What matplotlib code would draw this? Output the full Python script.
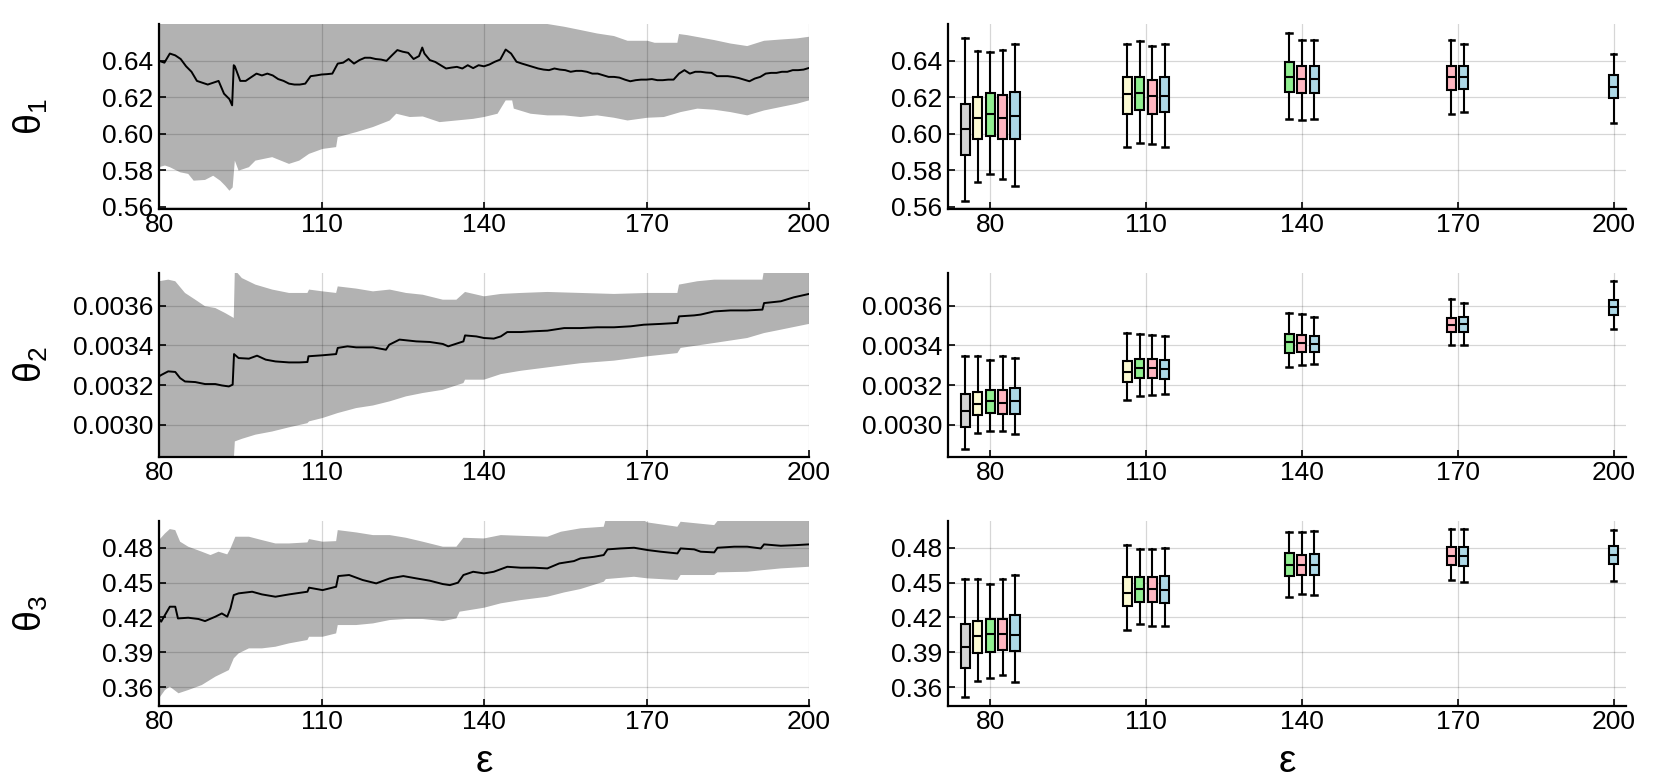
import numpy as np
import matplotlib
matplotlib.use('Agg')
import matplotlib.pyplot as plt
from matplotlib import font_manager

# ---------------- data ----------------
eps_ticks = [80, 110, 140, 170, 200]
param_labels = ['θ_1', 'θ_2', 'θ_3']

# theta1 running estimate (left panel)
t1_mean_x = [80, 81, 82, 83, 84, 85, 86, 87, 88, 89, 90, 91, 92, 93, 93.5, 93.8, 94, 95, 96, 97, 98, 99, 100,
             101, 102, 103, 104, 105, 106, 107, 108, 109, 110, 111, 112, 113, 114, 115, 116, 117, 118, 119, 120,
             121, 122, 123, 124, 125, 126, 127, 128, 128.6, 129, 130, 131, 132, 133, 134, 135, 136, 137, 138, 139, 140,
             141, 142, 143, 144, 145, 146, 147, 148, 149, 150, 151, 152, 153, 154, 155, 156, 157, 158, 159, 160,
             161, 162, 163, 164, 165, 166, 167, 168, 169, 170, 171, 172, 173, 174, 175, 176, 177, 178, 179, 180,
             181, 182, 183, 184, 185, 186, 187, 188, 189, 190, 191, 192, 193, 194, 195, 196, 197, 198, 199, 200]
t1_mean_y = [0.640, 0.639, 0.644, 0.643, 0.641, 0.637, 0.634, 0.629, 0.628, 0.627, 0.628, 0.629, 0.622, 0.619, 0.6156, 0.6376, 0.637, 0.629, 0.629, 0.631, 0.633, 0.632, 0.633,
             0.632, 0.630, 0.629, 0.6275, 0.627, 0.627, 0.6275, 0.6316, 0.632, 0.6325, 0.6327, 0.633, 0.6385, 0.639, 0.641, 0.6385, 0.6404, 0.6417, 0.6417, 0.641,
             0.6407, 0.640, 0.643, 0.6459, 0.645, 0.6444, 0.641, 0.6426, 0.6473, 0.644, 0.6404, 0.6394, 0.6376, 0.6358, 0.6363, 0.6367, 0.6358, 0.6376, 0.636, 0.6376, 0.637,
             0.638, 0.6395, 0.6407, 0.6462, 0.644, 0.6395, 0.6385, 0.6376, 0.6367, 0.6358, 0.6352, 0.6349, 0.6358, 0.6352, 0.6349, 0.634, 0.6345, 0.6345, 0.634, 0.633,
             0.633, 0.6321, 0.6312, 0.6312, 0.6308, 0.6297, 0.6288, 0.6294, 0.6297, 0.6297, 0.630, 0.6294, 0.6294, 0.6297, 0.6297, 0.633, 0.6349, 0.633, 0.634, 0.634,
             0.6336, 0.6334, 0.6316, 0.6316, 0.6316, 0.6312, 0.6306, 0.6297, 0.6288, 0.6303, 0.6312, 0.633, 0.6334, 0.6334, 0.634, 0.634, 0.6349, 0.6349, 0.6352, 0.6361]
t1_up_x = [80, 150, 151.7, 154.8, 157.8, 160.9, 164, 166.5, 170.2, 171.5, 173.2, 175.7, 176, 177.5, 182.5, 185.5, 188.6, 191.7, 194.8, 197.8, 200]
t1_up_y = [0.662, 0.662, 0.6602, 0.6587, 0.6569, 0.6550, 0.6536, 0.6510, 0.6510, 0.6499, 0.6499, 0.6499, 0.6547, 0.6541, 0.6514, 0.6495, 0.6481, 0.6510, 0.6517, 0.6523, 0.6532]
t1_lo_x = [80, 81.1, 82, 83.9, 85.4, 86.4, 88.5, 90, 91.3, 92.2, 93, 93.6, 94, 94.7, 96.6, 97.8, 100.9, 104, 105.9, 107.7, 110.2,
           112.7, 113, 116.4, 119.5, 122.6, 123.8, 126.3, 128.7, 131.8, 134.9, 138, 140, 142.5, 144, 145.2, 145.5, 148.6,
           151.7, 154.8, 157.8, 160.9, 164, 166.5, 170.2, 173.2, 176.3, 179.4, 182.5, 185.5, 188.6, 191.7, 194.8, 197.8, 200]
t1_lo_y = [0.5817, 0.5826, 0.5817, 0.5789, 0.578, 0.5743, 0.5747, 0.577, 0.5743, 0.5716, 0.5688, 0.5706, 0.5853, 0.5798, 0.5817, 0.5853, 0.5872, 0.5835, 0.5853, 0.589, 0.5917,
           0.5927, 0.5982, 0.6009, 0.6037, 0.6073, 0.611, 0.6092, 0.6095, 0.6064, 0.6073, 0.6082, 0.6092, 0.611, 0.6183, 0.6183, 0.6138, 0.611,
           0.6101, 0.6101, 0.6092, 0.6101, 0.6088, 0.6073, 0.6088, 0.6092, 0.6119, 0.6138, 0.6132, 0.6119, 0.6101, 0.6128, 0.6147, 0.6165, 0.6183]

# theta2 running estimate
t2_mean_x = [80, 80.5, 81.7, 83, 83.9, 84.8, 86.7, 88.5, 90.4, 91.6, 92.9, 93.6, 93.85, 94.7, 96.6, 98.1, 99.7, 101.5, 104, 105.9,
             107.4, 107.6, 110.2, 112.7, 113, 114.8, 116.4, 119.5, 121.9, 122.5, 124.4, 127.5, 130, 132.4, 133.4, 136.2, 136.5,
             138.6, 140, 141.8, 143.1, 144.3, 146.8, 149.2, 151.7, 154.8, 157.8, 160.9, 164, 167.1, 169.5, 172.6, 175.7, 176,
             178.8, 180, 182.5, 185.5, 188.6, 191.4, 191.7, 194.8, 197.2, 200]
t2_mean_y = [0.003244, 0.003252, 0.003269, 0.003266, 0.003235, 0.003218, 0.003215, 0.003205, 0.003205, 0.003198, 0.003193, 0.003202, 0.003356, 0.003336, 0.003333, 0.003348, 0.003328, 0.003319, 0.003314, 0.003314,
             0.003316, 0.003345, 0.00335, 0.003356, 0.003387, 0.003395, 0.00339, 0.00339, 0.003378, 0.003403, 0.003429, 0.00342, 0.003417, 0.003407, 0.003395, 0.00342, 0.00345,
             0.003445, 0.003437, 0.003434, 0.003445, 0.003467, 0.003467, 0.003471, 0.003474, 0.003487, 0.003487, 0.003491, 0.003491, 0.003496, 0.003504, 0.003508, 0.003513, 0.003546,
             0.003551, 0.003555, 0.003571, 0.003576, 0.003576, 0.00358, 0.003613, 0.003622, 0.003642, 0.003659]
t2_up_x = [80, 81.7, 83, 84.8, 86.7, 88.5, 90.4, 92.2, 93.8, 94, 95.3, 97.8, 100.9, 104, 107.4, 107.7, 110.2, 112.7, 113, 116.4,
           119.5, 122.6, 125.6, 128.7, 132.4, 134.9, 136.5, 140, 143.1, 146.8, 151.7, 157.8, 164, 170.2, 175.7, 176, 179.4,
           182.5, 188.6, 191.4, 191.7, 200]
t2_up_y = [0.003723, 0.003731, 0.003723, 0.003664, 0.00363, 0.003597, 0.003588, 0.003563, 0.003538, 0.00378, 0.003739, 0.003706, 0.003681, 0.003664, 0.003664, 0.003681, 0.003672, 0.003664, 0.003697, 0.003686,
           0.003672, 0.003681, 0.003664, 0.003655, 0.00363, 0.00363, 0.003669, 0.003647, 0.003659, 0.003664, 0.003669, 0.003664, 0.003659, 0.003664, 0.003664, 0.003706, 0.003723,
           0.003731, 0.003731, 0.003731, 0.00378, 0.00378]
t2_lo_x = [80, 93.8, 94, 95.3, 97.8, 100.9, 104, 107.4, 107.7, 110.2, 113, 116.4, 119.5, 122.6, 125.6, 128.7, 132.4, 136.2, 136.5,
           140, 143.1, 146.8, 151.7, 157.8, 164, 170.2, 175.7, 176.3, 182.5, 188.6, 191.7, 194.8, 200]
t2_lo_y = [0.00282, 0.00282, 0.002916, 0.002929, 0.00295, 0.002966, 0.002987, 0.003008, 0.003017, 0.003034, 0.003059, 0.003084, 0.003097, 0.003118, 0.003143, 0.00316, 0.003176, 0.00321, 0.003227,
           0.003227, 0.003255, 0.003272, 0.003289, 0.00331, 0.003323, 0.003345, 0.003361, 0.003387, 0.003412, 0.003437, 0.003462, 0.003479, 0.003508]

# theta3 running estimate
t3_mean_x = [80, 80.4, 81.1, 82, 83, 83.5, 85.4, 87.3, 88.5, 90.4, 91.6, 92.6, 93.2, 93.8, 94.7, 97.2, 99, 101.5, 104, 106.5,
             107.4, 107.7, 110.2, 112.7, 113.1, 115.1, 117.6, 120.1, 122.6, 125.1, 127.5, 130, 132.4, 133.7, 135.2, 136.2, 138,
             140, 141.8, 144.3, 146.8, 149.2, 151.7, 153.9, 156.6, 157.8, 160.3, 162.1, 162.8, 165.2, 167.7, 170.2, 172.6, 175.7,
             176.3, 178.8, 180, 182.5, 183.1, 186.2, 188.6, 191.1, 191.7, 194.8, 197.8, 200]
t3_mean_y = [0.4191, 0.4163, 0.422, 0.4292, 0.4292, 0.4191, 0.4197, 0.4186, 0.4168, 0.4206, 0.4234, 0.4206, 0.4278, 0.4392, 0.4407, 0.4421, 0.4398, 0.4378, 0.4398, 0.4415,
             0.4421, 0.4456, 0.4435, 0.4464, 0.4556, 0.4565, 0.4522, 0.4493, 0.4536, 0.4556, 0.4536, 0.4516, 0.4487, 0.4478, 0.4499, 0.4565, 0.4593,
             0.4579, 0.4593, 0.4636, 0.4628, 0.4628, 0.4622, 0.4665, 0.4685, 0.4708, 0.4722, 0.4737, 0.4786, 0.4794, 0.48, 0.478, 0.4766, 0.4751,
             0.4794, 0.4786, 0.4766, 0.476, 0.48, 0.4809, 0.4809, 0.4794, 0.4829, 0.4817, 0.4823, 0.4829]
t3_up_x = [80, 81.1, 82, 83, 83.9, 85.4, 87.9, 89.5, 91, 92.6, 93.2, 94.1, 96.6, 99, 101.5, 104, 107.4, 107.7, 110.2, 112.7, 113,
           116.4, 119.5, 122.6, 125.6, 128.7, 132.4, 134.9, 136.2, 140, 143.1, 146.8, 151.7, 154.2, 157.8, 162.1, 162.5,
           168.9, 170.2, 175.7, 176.3, 182.5, 183.1, 191.7, 200]
t3_up_y = [0.4866, 0.4923, 0.4961, 0.4952, 0.4852, 0.4809, 0.4766, 0.4737, 0.4766, 0.4743, 0.4794, 0.4895, 0.4895, 0.4866, 0.4837, 0.4837, 0.4846, 0.4875, 0.4852, 0.4857, 0.4952,
           0.4932, 0.4909, 0.4909, 0.4886, 0.4852, 0.4809, 0.4809, 0.4886, 0.488, 0.4909, 0.4903, 0.4895, 0.4938, 0.4967, 0.4981, 0.505,
           0.505, 0.5018, 0.4981, 0.5024, 0.4995, 0.503, 0.505, 0.505]
t3_lo_x = [80, 81.1, 82, 83.6, 85.4, 87.9, 90.4, 92.9, 93.8, 94.7, 96.6, 99, 101.5, 104, 107.4, 107.7, 110.2, 112.7, 113, 116.4,
           119.5, 122.6, 125.6, 128.7, 132.4, 134.9, 135.5, 140, 143.1, 146.8, 151.7, 154.8, 157.8, 162.1, 162.5, 167.7,
           170.2, 175.7, 176.3, 182.5, 183.1, 188.6, 191.7, 194.8, 200]
t3_lo_y = [0.3502, 0.3574, 0.3603, 0.3546, 0.3574, 0.3617, 0.3689, 0.3746, 0.3847, 0.389, 0.3933, 0.3933, 0.3947, 0.3976, 0.4005, 0.4033, 0.4033, 0.4062, 0.4134, 0.4134,
           0.4148, 0.4177, 0.4186, 0.4186, 0.4168, 0.4191, 0.4249, 0.4283, 0.4321, 0.4349, 0.4378, 0.4415, 0.4444, 0.4507, 0.453, 0.455,
           0.4536, 0.4522, 0.4565, 0.4565, 0.4588, 0.4593, 0.4608, 0.4622, 0.4636]

# box statistics [whisker low, Q1, median, Q3, whisker high], one per ε group starting at 80
t1_gray = [[0.5631, 0.5883, 0.6026, 0.6164, 0.6526]]
t1_yellow = [[0.5733, 0.5973, 0.6086, 0.6203, 0.6455], [0.5929, 0.6110, 0.6216, 0.6311, 0.6493]]
t1_green = [[0.5779, 0.5989, 0.6111, 0.6223, 0.6446], [0.5951, 0.6132, 0.6225, 0.6314, 0.6511], [0.6082, 0.6230, 0.6312, 0.6391, 0.6553]]
t1_pink = [[0.5752, 0.5969, 0.6088, 0.6214, 0.6458], [0.5945, 0.6111, 0.6206, 0.6294, 0.6479], [0.6077, 0.6221, 0.6301, 0.6373, 0.6513],
           [0.6108, 0.6241, 0.6309, 0.6371, 0.6517]]
t1_blue = [[0.5715, 0.5969, 0.6099, 0.6228, 0.6493], [0.5925, 0.6117, 0.6208, 0.6311, 0.6493], [0.6082, 0.6221, 0.6301, 0.6373, 0.6515],
           [0.6119, 0.6245, 0.6309, 0.6373, 0.6493], [0.6057, 0.6197, 0.6258, 0.6325, 0.6438]]

t2_gray = [[0.002876, 0.002988, 0.003069, 0.003153, 0.003346]]
t2_yellow = [[0.002956, 0.003050, 0.003106, 0.003163, 0.003346], [0.003123, 0.003215, 0.003266, 0.003321, 0.003460]]
t2_green = [[0.002968, 0.003060, 0.003119, 0.003175, 0.003324], [0.003143, 0.003234, 0.003286, 0.003329, 0.003455],
            [0.003292, 0.003363, 0.003415, 0.003457, 0.003565]]
t2_pink = [[0.002966, 0.003055, 0.003111, 0.003173, 0.003346], [0.003148, 0.003237, 0.003286, 0.003333, 0.003450],
           [0.003301, 0.003365, 0.003413, 0.003450, 0.003558], [0.003402, 0.003466, 0.003504, 0.003539, 0.003634]]
t2_blue = [[0.002955, 0.003052, 0.003118, 0.003187, 0.003338], [0.003153, 0.003230, 0.003282, 0.003328, 0.003447],
           [0.003306, 0.003366, 0.003408, 0.003449, 0.003541], [0.003403, 0.003467, 0.003509, 0.003543, 0.003613],
           [0.003482, 0.003553, 0.003592, 0.003630, 0.003724]]

t3_gray = [[0.3511, 0.3764, 0.3947, 0.4140, 0.4530]]
t3_yellow = [[0.3652, 0.3893, 0.4036, 0.4168, 0.4530], [0.4091, 0.4298, 0.4412, 0.4550, 0.4820]]
t3_green = [[0.3680, 0.3904, 0.4060, 0.4186, 0.4490], [0.4143, 0.4332, 0.4444, 0.4545, 0.4791], [0.4378, 0.4559, 0.4651, 0.4751, 0.4932]]
t3_pink = [[0.3700, 0.3919, 0.4054, 0.4189, 0.4530], [0.4125, 0.4335, 0.4447, 0.4547, 0.4789], [0.4401, 0.4565, 0.4648, 0.4740, 0.4935],
           [0.4522, 0.4651, 0.4728, 0.4806, 0.4964]]
t3_blue = [[0.3643, 0.3910, 0.4051, 0.4217, 0.4562], [0.4128, 0.4321, 0.4435, 0.4556, 0.4794], [0.4389, 0.4562, 0.4651, 0.4745, 0.4944],
           [0.4507, 0.4645, 0.4728, 0.4806, 0.4961], [0.4516, 0.4659, 0.4737, 0.4811, 0.4952]]

t1_yticks = [0.56, 0.58, 0.60, 0.62, 0.64]
t2_yticks = [0.0030, 0.0032, 0.0034, 0.0036]
t3_yticks = [0.36, 0.39, 0.42, 0.45, 0.48]

# ---------------- style ----------------
def pick_font():
    for f in ['Liberation Sans', 'DejaVu Sans']:
        try:
            font_manager.findfont(f, fallback_to_default=False)
            return f
        except Exception:
            pass
    return 'DejaVu Sans'

FONT = pick_font()
plt.rcParams['font.family'] = [FONT, 'DejaVu Sans']
plt.rcParams['mathtext.fontset'] = 'custom'
plt.rcParams['mathtext.rm'] = FONT

box_colors = ['#d3d3d3', '#fbfad2', '#90ee90', '#ffb6c1', '#add8e6']

rows = [
    dict(mx=t1_mean_x, my=t1_mean_y, ux=t1_up_x, uy=t1_up_y, lx=t1_lo_x, ly=t1_lo_y,
         boxes=[t1_gray, t1_yellow, t1_green, t1_pink, t1_blue], ylim=(0.5586, 0.6602), yticks=t1_yticks, fmt='%.2f'),
    dict(mx=t2_mean_x, my=t2_mean_y, ux=t2_up_x, uy=t2_up_y, lx=t2_lo_x, ly=t2_lo_y,
         boxes=[t2_gray, t2_yellow, t2_green, t2_pink, t2_blue], ylim=(0.002836, 0.003766), yticks=t2_yticks, fmt='%.4f'),
    dict(mx=t3_mean_x, my=t3_mean_y, ux=t3_up_x, uy=t3_up_y, lx=t3_lo_x, ly=t3_lo_y,
         boxes=[t3_gray, t3_yellow, t3_green, t3_pink, t3_blue], ylim=(0.3439, 0.5033), yticks=t3_yticks, fmt='%.2f'),
]

W, H = 1667, 778
fig = plt.figure(figsize=(W / 100, H / 100), dpi=100)

row_px = [(24, 209.3), (272.7, 457.3), (520.7, 705.7)]
left_px = (159, 809)
right_px = (948, 1626)


def rect(xp, yp):
    return [xp[0] / W, 1 - yp[1] / H, (xp[1] - xp[0]) / W, (yp[1] - yp[0]) / H]


def style(ax, r):
    for s in ['top', 'right']:
        ax.spines[s].set_visible(False)
    for s in ['left', 'bottom']:
        ax.spines[s].set_linewidth(1.6)
        ax.spines[s].set_color('black')
    ax.grid(True, color='black', alpha=0.16, lw=0.9)
    ax.set_axisbelow(True)
    ax.tick_params(direction='in', length=5, width=1.2, labelsize=19, colors='black')
    ax.tick_params(axis='x', pad=3)
    ax.tick_params(axis='y', pad=4)
    ax.set_xticks(eps_ticks)
    ax.set_yticks(r['yticks'])
    ax.yaxis.set_major_formatter(matplotlib.ticker.FormatStrFormatter(r['fmt']))
    ax.set_ylim(*r['ylim'])


for i, r in enumerate(rows):
    axl = fig.add_axes(rect(left_px, row_px[i]))
    axr = fig.add_axes(rect(right_px, row_px[i]))

    # left: running mean with band
    bx = np.concatenate([r['ux'], r['lx'][::-1]])
    by = np.concatenate([r['uy'], r['ly'][::-1]])
    axl.fill(bx, by, color='black', alpha=0.3, lw=0)
    axl.plot(r['mx'], r['my'], color='black', lw=1.4)
    axl.set_xlim(80, 200)
    style(axl, r)
    axl.set_ylabel(r'$\mathregular{' + param_labels[i] + '}$', fontsize=27, rotation=90, va='center', ha='center')
    axl.yaxis.set_label_coords((31 - left_px[0]) / (left_px[1] - left_px[0]), 0.5)

    # right: dodged boxplots
    for k, series in enumerate(r['boxes']):
        for g, s in enumerate(series):
            n_in_group = 5 - g
            pos = eps_ticks[g] + (k - g - (n_in_group - 1) / 2) * 2.4
            stats = [dict(whislo=s[0], q1=s[1], med=s[2], q3=s[3], whishi=s[4], fliers=[])]
            axr.bxp(stats, positions=[pos], widths=1.75, patch_artist=True, showfliers=False,
                    manage_ticks=False, capwidths=1.1,
                    boxprops=dict(facecolor=box_colors[k], edgecolor='black', lw=1.5),
                    whiskerprops=dict(color='black', lw=1.5),
                    capprops=dict(color='black', lw=1.8),
                    medianprops=dict(color='black', lw=1.5))
    axr.set_xlim(71.9, 202.4)
    style(axr, r)

    if i == 2:
        for ax in [axl, axr]:
            ax.set_xlabel('ε', fontsize=28, va='center', ha='center')
            ax.xaxis.set_label_coords(0.5, -(762 - 705.7) / (705.7 - 520.7))

fig.savefig('out.png', dpi=100)
